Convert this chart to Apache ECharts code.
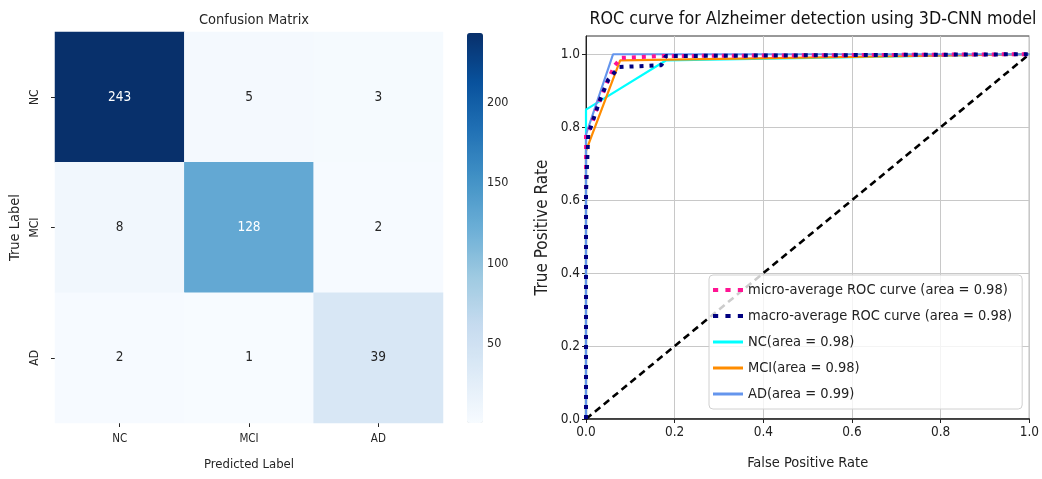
<!DOCTYPE html>
<html><head><meta charset="utf-8">
<script src="https://cdn.jsdelivr.net/npm/echarts@6/dist/echarts.min.js"></script>
<style>html,body{margin:0;padding:0;background:#fff}#c{width:1042px;height:479px}</style>
</head><body><div id="c"></div>
<script>
const classes = ['NC', 'MCI', 'AD'];
const matrix = [
  [243, 5, 3],
  [8, 128, 2],
  [2, 1, 39]
];
const colorbarTicks = [50, 100, 150, 200];
const rocTicks = [0, 0.2, 0.4, 0.6, 0.8, 1.0];

const microName = 'micro-average ROC curve (area = 0.98)';
const macroName = 'macro-average ROC curve (area = 0.98)';
const ncName = 'NC(area = 0.98)';
const mciName = 'MCI(area = 0.98)';
const adName = 'AD(area = 0.99)';

const microROC = [[0,0],[0,0.78],[0.01,0.8],[0.03,0.87],[0.05,0.93],[0.065,0.97],[0.08,0.99],[0.17,0.995],[1,1]];
const macroROC = [[0,0],[0,0.62],[0.005,0.78],[0.03,0.87],[0.05,0.93],[0.075,0.965],[0.17,0.97],[0.18,0.995],[1,1]];
const ncROC = [[0,0],[0,0.848],[0.18,0.983],[1,1]];
const mciROC = [[0,0],[0,0.735],[0.077,0.983],[1,1]];
const adROC = [[0,0],[0,0.78],[0.061,1.0],[1,1]];
const diagonal = [[0,0],[1,1]];

const FONT = "'DejaVu Sans Condensed','DejaVu Sans',sans-serif";
const blues = ['#f7fbff','#deebf7','#c6dbef','#9ecae1','#6baed6','#4292c6','#2171b5','#08519c','#08306b'];
const DOTS = 'path://M0,0h5v4h-5z M12,0h5v4h-5z M24,0h5v4h-5z';
const SOLID = 'path://M0,0h30v3h-30z';

const heatData = [];
matrix.forEach((row, i) => row.forEach((v, j) => {
  heatData.push({value: [j, i, v], label: {color: v > 100 ? '#ffffff' : '#262626'}});
}));

const chart = echarts.init(document.getElementById('c'), null, {renderer: 'canvas'});
chart.setOption({
  animation: false,
  textStyle: {fontFamily: FONT},
  title: [
    {text: 'Confusion Matrix', left: 249, top: 8, textAlign: 'center',
     textStyle: {fontSize: 14.5, fontWeight: 'normal', color: '#262626', fontFamily: FONT}},
    {text: 'ROC curve for Alzheimer detection using 3D-CNN model', left: 808, top: 5, textAlign: 'center',
     textStyle: {fontSize: 17.7, fontWeight: 'normal', color: '#111', fontFamily: FONT}}
  ],
  grid: [
    {left: 55, top: 32, width: 388, height: 391},
    {left: 586, top: 36, width: 444, height: 383, show: true, borderColor: '#333', borderWidth: 1},
    {left: 467, top: 33, width: 16, height: 390}
  ],
  xAxis: [
    {type: 'category', gridIndex: 0, data: classes, position: 'bottom',
     axisLine: {show: false}, axisTick: {show: true, alignWithLabel: true, length: 4, lineStyle: {color: '#262626'}},
     axisLabel: {fontSize: 11.5, color: '#262626', margin: 10},
     name: 'Predicted Label', nameLocation: 'middle', nameGap: 35,
     nameTextStyle: {fontSize: 13, color: '#262626'}, splitLine: {show: false}},
    {type: 'value', gridIndex: 1, min: 0, max: 1, interval: 0.2,
     axisLine: {show: true, lineStyle: {color: '#222', width: 1.6}},
     axisTick: {show: true, length: 4, lineStyle: {color: '#222'}},
     axisLabel: {fontSize: 13.5, color: '#222', margin: 6, formatter: v => v.toFixed(1)},
     splitLine: {show: true, lineStyle: {color: '#c8c8c8', width: 1}},
     name: 'False Positive Rate', nameLocation: 'middle', nameGap: 37,
     nameTextStyle: {fontSize: 14.5, color: '#222'}},
    {type: 'value', gridIndex: 2, show: false, min: 0, max: 1}
  ],
  yAxis: [
    {type: 'category', gridIndex: 0, data: classes, inverse: true,
     axisLine: {show: false}, axisTick: {show: true, alignWithLabel: true, length: 4, lineStyle: {color: '#262626'}},
     axisLabel: {fontSize: 12, color: '#262626', rotate: 90, margin: 14},
     name: 'True Label', nameLocation: 'middle', nameGap: 32, nameRotate: 90,
     nameTextStyle: {fontSize: 14.5, color: '#262626'}, splitLine: {show: false}},
    {type: 'value', gridIndex: 1, min: 0, max: 1.05, interval: 0.2,
     axisLine: {show: true, lineStyle: {color: '#222'}},
     axisTick: {show: true, length: 4, customValues: rocTicks, lineStyle: {color: '#222'}},
     axisLabel: {fontSize: 13.5, color: '#222', margin: 6, customValues: rocTicks, formatter: v => v.toFixed(1)},
     splitLine: {show: true, lineStyle: {color: '#c8c8c8', width: 1}},
     name: 'True Positive Rate', nameLocation: 'middle', nameGap: 35, nameRotate: 90,
     nameTextStyle: {fontSize: 17, color: '#222'}},
    {type: 'value', gridIndex: 2, min: 1, max: 243, position: 'right',
     axisLine: {show: false},
     axisTick: {show: true, length: 4, customValues: colorbarTicks, lineStyle: {color: '#262626'}},
     axisLabel: {fontSize: 12.5, color: '#262626', margin: 4, customValues: colorbarTicks},
     splitLine: {show: false}}
  ],
  visualMap: {
    type: 'continuous', min: 1, max: 243, seriesIndex: 0, calculable: false,
    left: 467, top: 33, itemWidth: 16, itemHeight: 390, padding: 0,
    inRange: {color: blues}, text: null, hoverLink: false
  },
  legend: {
    orient: 'vertical', left: 709, top: 275, itemGap: 10, itemWidth: 30, itemHeight: 14,
    padding: [7, 10, 7, 4],
    backgroundColor: 'rgba(255,255,255,0.8)', borderColor: '#d0d0d0', borderWidth: 1, borderRadius: 4,
    textStyle: {fontSize: 14.5, color: '#222', fontFamily: FONT, lineHeight: 16},
    data: [
      {name: microName, icon: DOTS},
      {name: macroName, icon: DOTS},
      {name: ncName, icon: SOLID},
      {name: mciName, icon: SOLID},
      {name: adName, icon: SOLID}
    ]
  },
  series: [
    {type: 'heatmap', xAxisIndex: 0, yAxisIndex: 0, data: heatData,
     label: {show: true, fontSize: 13.5, fontFamily: FONT, formatter: p => p.value[2]}},
    {type: 'line', name: 'diag', xAxisIndex: 1, yAxisIndex: 1, data: diagonal, symbol: 'none',
     lineStyle: {color: '#000', width: 2.6, type: [7, 4.5]}, z: 3},
    {type: 'line', name: ncName, xAxisIndex: 1, yAxisIndex: 1, data: ncROC, symbol: 'none',
     color: '#00ffff', lineStyle: {color: '#00ffff', width: 2.2}, z: 4},
    {type: 'line', name: mciName, xAxisIndex: 1, yAxisIndex: 1, data: mciROC, symbol: 'none',
     color: '#ff8c00', lineStyle: {color: '#ff8c00', width: 2.2}, z: 5},
    {type: 'line', name: adName, xAxisIndex: 1, yAxisIndex: 1, data: adROC, symbol: 'none',
     color: '#6495ed', lineStyle: {color: '#6495ed', width: 2.2}, z: 6},
    {type: 'line', name: microName, xAxisIndex: 1, yAxisIndex: 1, data: microROC, symbol: 'none',
     color: '#ff1493', lineStyle: {color: '#ff1493', width: 4, type: [4, 6]}, z: 7},
    {type: 'line', name: macroName, xAxisIndex: 1, yAxisIndex: 1, data: macroROC, symbol: 'none',
     color: '#000080', lineStyle: {color: '#000080', width: 4, type: [4, 6]}, z: 8}
  ]
});
</script>
</body></html>
